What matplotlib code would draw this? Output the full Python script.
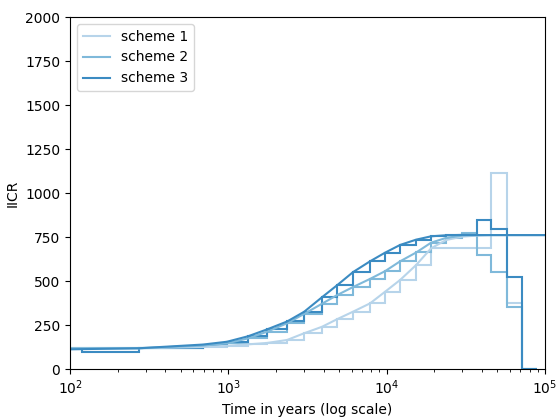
import matplotlib
matplotlib.use('Agg')
import matplotlib.pyplot as plt

# time interval edges (years) of the piecewise-constant IICR
edges = [50, 118.5, 273, 692, 981, 1331, 1754, 2350, 3008, 3906, 4862, 6138,
         7852, 9767, 12160, 15350, 19090, 23730, 29930, 37240, 45640, 57380,
         71330, 88770]

# step values for each scheme (one per interval)
steps_1 = [118, 118, 118, 125, 132, 140, 148, 165, 203, 240, 283, 326, 373,
           439, 506, 591, 686, 686, 686, 686, 1115, 377, 0]
steps_2 = [118, 118, 118, 133, 146, 174, 212, 260, 313, 371, 420, 466, 512,
           556, 612, 662, 718, 745, 771, 645, 553, 350, 0]
steps_3 = [112, 98, 118, 139, 155, 186, 225, 270, 325, 408, 476, 551, 612,
           661, 705, 735, 754, 760, 762, 847, 795, 525, 0]

# theoretical IICR curves
curve_t = [100, 273, 692, 981, 1331, 1754, 2350, 3008, 3906, 4862, 6138, 7852,
           9767, 12160, 15350, 19090, 23730, 29930, 37240, 45640, 100000]
curve_1 = [118, 118, 125, 132, 140, 148, 165, 203, 240, 283, 326, 373, 439,
           506, 591, 686, 733, 752, 758, 761, 761]
curve_2 = [118, 118, 133, 146, 174, 212, 260, 313, 371, 420, 466, 512, 556,
           612, 662, 718, 745, 758, 761, 761, 761]
curve_3 = [112, 118, 139, 155, 186, 225, 270, 325, 408, 476, 551, 612, 661,
           705, 735, 754, 760, 762, 761, 761, 761]

labels = ['scheme 1', 'scheme 2', 'scheme 3']
colors = [plt.cm.Blues(0.3), plt.cm.Blues(0.45), plt.cm.Blues(0.65)]

fig = plt.figure(figsize=(5.57, 4.2), dpi=100)
ax = fig.add_axes([0.1257, 0.1214, 0.8528, 0.8381])

for steps, curve, lab, c in zip([steps_1, steps_2, steps_3],
                                [curve_1, curve_2, curve_3], labels, colors):
    ax.stairs(steps, edges, baseline=None, color=c, lw=1.5)
    ax.plot(curve_t, curve, color=c, lw=1.5, label=lab)

ax.set_xscale('log')
ax.set_xlim(1e2, 1e5)
ax.set_ylim(0, 2000)
ax.set_yticks(range(0, 2001, 250))
ax.set_xlabel('Time in years (log scale)')
ax.set_ylabel('IICR')
ax.legend(loc='upper left')

fig.savefig('out.png', dpi=100)
